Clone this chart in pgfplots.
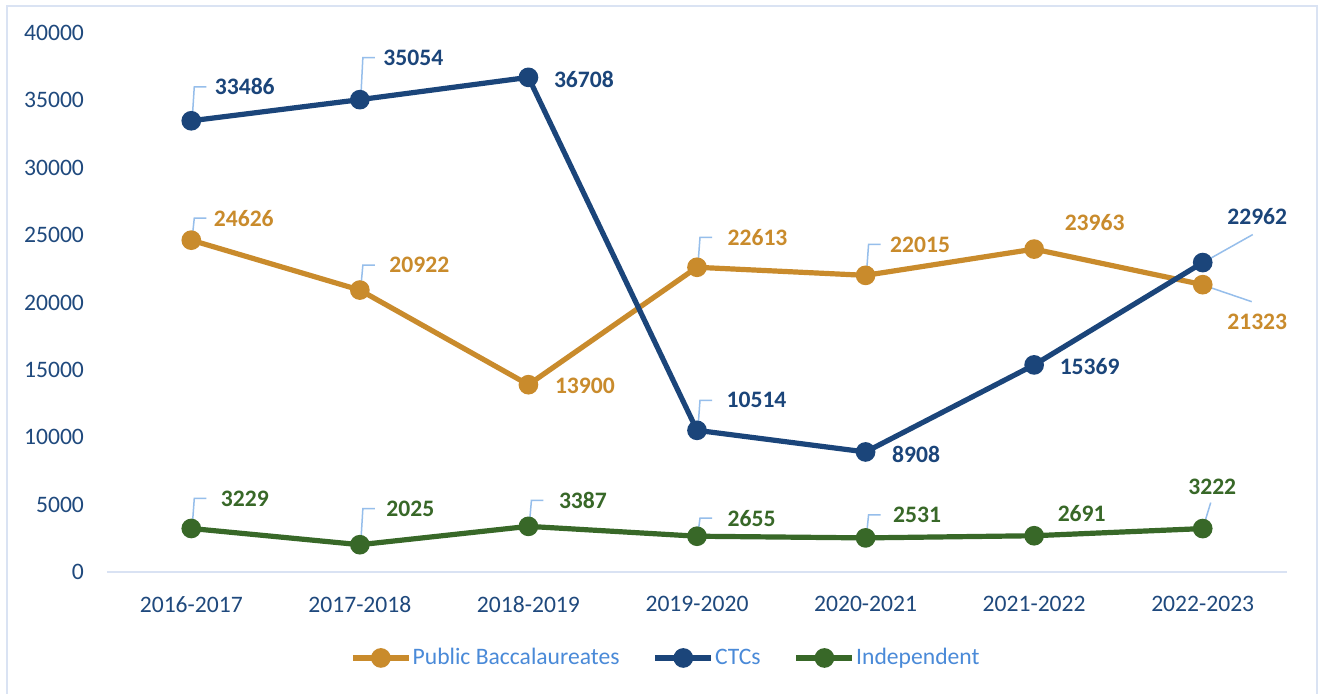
\documentclass[border=0pt]{standalone}
\usepackage{pgfplots}
\pgfplotsset{compat=1.18}
\usepackage{pgfplotstable}
\usepackage{fontspec}
\setmainfont{Carlito}
\definecolor{gold}{RGB}{201,139,44}
\definecolor{navy}{RGB}{27,69,122}
\definecolor{grn}{RGB}{56,104,40}
\definecolor{axtext}{RGB}{31,73,125}
\definecolor{legtext}{RGB}{74,138,216}
\definecolor{leadc}{RGB}{150,190,235}
\definecolor{axline}{RGB}{217,226,243}
\definecolor{bordc}{RGB}{218,227,243}
\tikzset{leader/.style={draw=leadc, line width=0.75pt}}

\pgfplotstableread{
x y lx ly
0 24626 10 11
1 20922 13.5 12.5
2 13900 12 -0.5
3 22613 14 15
4 22015 11 15.5
5 23963 14 13.5
6 21323 11 -18.5
}\goldtab
\pgfplotstableread{
x y lx ly
0 33486 10.5 17
1 35054 10.5 21
2 36708 11.5 -0.8
3 10514 13.5 15
4 8908 12 -1
5 15369 11.5 -1
6 22962 11 23
}\navytab
\pgfplotstableread{
x y lx ly
0 3229 13.5 15
1 2025 12 18
2 3387 14 13
3 2655 14 9
4 2531 12.5 11.5
5 2691 10.5 11
6 3222 -8.5 21
}\grntab

\newcommand\lead[3]{\draw[leader] (axis cs:#1,#2) ++(0.5pt,1.5pt) -- ++(1pt,#3pt) -- ++(6pt,0pt);}
\newcommand\fsz{\fontsize{11.8}{14}\selectfont}

\begin{document}
\begin{tikzpicture}[x=1pt,y=1pt]
\useasboundingbox (0,0) rectangle (660,347);
\fill[white] (0,0) rectangle (660,347);
\draw[bordc, line width=1pt] (3.5,-2) -- (3.5,344) -- (658.5,344) -- (658.5,-2);
\begin{axis}[
  at={(53.5pt,61pt)}, anchor=south west,
  scale only axis, width=590pt, height=269.5pt,
  xmin=-0.5, xmax=6.5, ymin=0, ymax=40000,
  clip=false,
  axis x line*=bottom, axis y line*=left,
  x axis line style={draw=axline, line width=1pt, -},
  y axis line style={draw=none},
  major tick length=0pt,
  xtick={0,1,2,3,4,5,6},
  xticklabels={2016-2017,2017-2018,2018-2019,2019-2020,2020-2021,2021-2022,2022-2023},
  ytick={0,5000,...,40000},
  scaled y ticks=false,
  /pgf/number format/1000 sep={},
  /pgf/number format/assume math mode=true,
  tick label style={font=\fsz, text=axtext},
  yticklabel style={xshift=-8pt},
  xticklabel style={yshift=-8.5pt},
  legend style={at={(0.4733,-0.1595)}, anchor=center, draw=none, fill=none,
    font=\fsz, text=legtext, inner sep=0pt, nodes={inner sep=0.6pt},
    /tikz/every even column/.append style={column sep=16pt}},
  legend columns=3,
  legend image code/.code={\draw[#1, mark repeat=2, mark phase=2] plot coordinates {(0pt,0pt) (14pt,0pt) (28pt,0pt)};},
  every axis plot/.append style={line width=2.6pt, mark=*, mark size=3.6pt},
  nodes near coords={\pgfmathprintnumber[fixed,precision=0,1000 sep={},assume math mode=true]{\pgfplotspointmeta}},
  visualization depends on={\thisrow{lx} \as \lxv},
  visualization depends on={\thisrow{ly} \as \lyv},
  nodes near coords style={anchor=west, inner sep=0pt, xshift=\lxv pt, yshift=\lyv pt, font=\fsz\bfseries},
]
\addplot[gold, mark options={solid, fill=gold}, nodes near coords style={text=gold}] table[x=x, y=y, meta=y]{\goldtab};
\addlegendentry{Public Baccalaureates}
\addplot[navy, mark options={solid, fill=navy}, nodes near coords style={text=navy}] table[x=x, y=y, meta=y]{\navytab};
\addlegendentry{CTCs}
\addplot[grn, mark options={solid, fill=grn}, nodes near coords style={text=grn}] table[x=x, y=y, meta=y]{\grntab};
\addlegendentry{Independent}

\lead{0}{33486}{15.5}
\lead{1}{35054}{19.5}
\lead{3}{10514}{13.5}
\lead{0}{24626}{9.5}
\lead{1}{20922}{11}
\lead{3}{22613}{13.5}
\lead{4}{22015}{14}
\lead{0}{3229}{13.5}
\lead{1}{2025}{16.5}
\lead{2}{3387}{11.5}
\lead{3}{2655}{7.5}
\lead{4}{2531}{10}
\draw[leader] (axis cs:6,22962) ++(1pt,0.5pt) -- ++(24pt,13.5pt);
\draw[leader] (axis cs:6,21323) ++(1pt,-0.5pt) -- ++(23.5pt,-8pt);
\draw[leader] (axis cs:6,3222) ++(0.5pt,1.5pt) -- ++(3.5pt,11.5pt);
\end{axis}
\end{tikzpicture}
\end{document}
